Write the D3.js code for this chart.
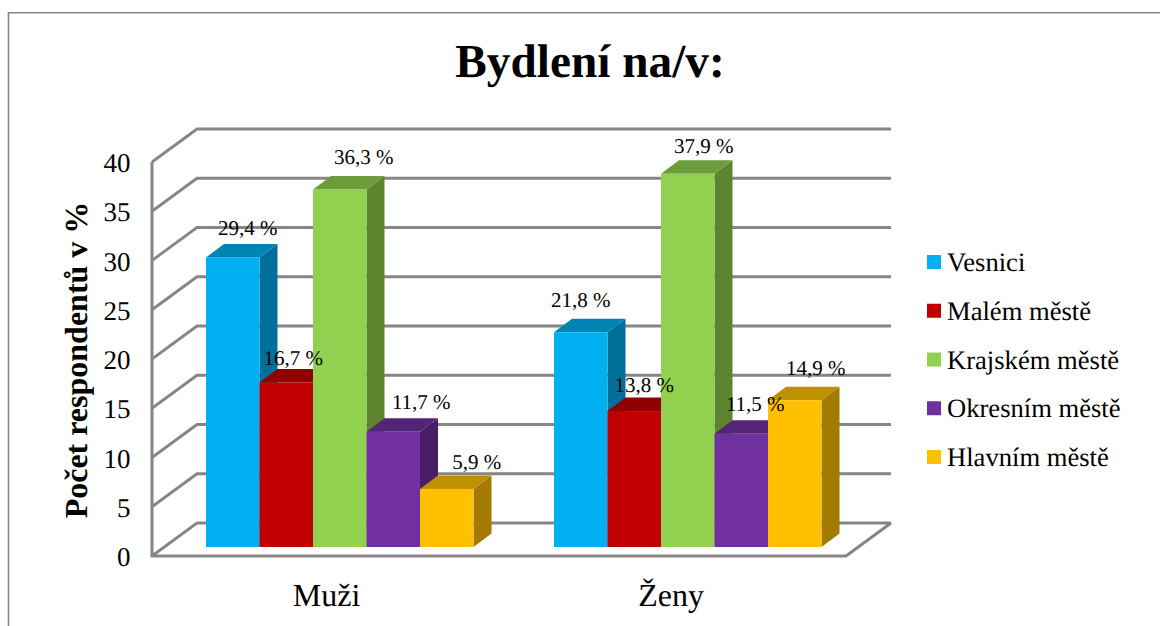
<!DOCTYPE html>
<html><head><meta charset="utf-8">
<script src="https://cdn.jsdelivr.net/npm/d3@7"></script>
<style>html,body{margin:0;padding:0;background:#fff}svg{display:block}text{font-family:"Liberation Serif",serif;fill:#000;text-rendering:geometricPrecision}</style>
</head><body><svg id="c" width="1160" height="626"></svg>
<script>
const categories = ["Muži", "Ženy"];
const seriesNames = ["Vesnici", "Malém městě", "Krajském městě", "Okresním městě", "Hlavním městě"];
const muzi = [29.4, 16.7, 36.3, 11.7, 5.9];
const zeny = [21.8, 13.8, 37.9, 11.5, 14.9];
const yTicks = [0, 5, 10, 15, 20, 25, 30, 35, 40];
const colors = ["#00b0f0", "#c00000", "#92d050", "#7030a0", "#ffc000"];
const topColors = ["#0084b4", "#900000", "#6d9c3c", "#542478", "#bf9000"];
const sideColors = ["#00709a", "#7b0000", "#5d8530", "#481f66", "#a37b00"];
const title = "Bydlení na/v:";
const yTitle = "Počet respondentů v %";
const fmt = v => v.toFixed(1).replace(".", ",") + " %";

const svg = d3.select("#c");
const GRID = "#868686";
// frame: open on the right and at the bottom, as in the reference
svg.append("path").attr("d", "M8.5,626V12.75H1160").attr("fill", "none").attr("stroke", GRID).attr("stroke-width", 1.6);

const y = d3.scaleLinear().domain([0, 40]).range([556, 162]);
const depth = {x: 45, y: -33};
const barDepth = {x: 18, y: -13.5};
const barOff = {x: 0, y: -9};
const x0 = d3.scaleBand().domain(categories).range([152, 848]);
const x1 = d3.scaleBand().domain(seriesNames).range([54, 321.5]);

// walls and gridlines
const wall = svg.append("g").attr("fill", "none").attr("stroke", GRID);
yTicks.forEach(t => {
  wall.append("path").attr("stroke-width", 2.8)
    .attr("d", `M152,${y(t)}L${152 + depth.x},${y(t) + depth.y}L${846 + depth.x},${y(t) + depth.y}`);
});
wall.append("path").attr("stroke-width", 3).attr("d", `M152,${y(40)}V${y(0)}H846L${846 + depth.x},${y(0) + depth.y}`);

// y tick labels
svg.append("g").selectAll("text").data(yTicks).enter().append("text")
  .attr("x", 130.5).attr("y", d => y(d) + 10).attr("text-anchor", "end").attr("font-size", 27).text(d => d);

// hand-placed data label nudges (dx from bar centre, dy above bar top), per category
const labelNudge = {
  "Muži": [[15, 22], [7, 18], [24, 25], [28, 23], [30, 20]],
  "Ženy": [[0, 25], [10, 19], [16, 21], [14, 23], [21, 25]]
};
const scale = v => y(v) - y(0);
const drawBars = (cat, values) => {
  const g = svg.append("g").attr("transform", `translate(${x0(cat)},0)`);
  const base = y(0) + barOff.y;
  values.forEach((v, i) => {
    const xl = x1(seriesNames[i]), xr = xl + x1.bandwidth(), top = base + scale(v);
    g.append("path").attr("fill", sideColors[i])
      .attr("d", `M${xr},${top}l${barDepth.x},${barDepth.y}V${base + barDepth.y}L${xr},${base}Z`);
    g.append("path").attr("fill", topColors[i])
      .attr("d", `M${xl},${top}l${barDepth.x},${barDepth.y}H${xr + barDepth.x}L${xr},${top}Z`);
    g.append("rect").attr("x", xl).attr("y", top).attr("width", x1.bandwidth()).attr("height", base - top).attr("fill", colors[i]);
  });
  values.forEach((v, i) => {
    const xl = x1(seriesNames[i]), [dx, dy] = labelNudge[cat][i];
    g.append("text").attr("x", xl + x1.bandwidth() / 2 + dx).attr("y", base + scale(v) - dy)
      .attr("text-anchor", "middle").attr("font-size", 21).text(fmt(v));
  });
};
drawBars(categories[0], muzi);
drawBars(categories[1], zeny);

// category labels
const catNudge = {"Muži": 0.5, "Ženy": -3};
svg.append("g").selectAll("text").data(categories).enter().append("text")
  .attr("x", d => x0(d) + x0.bandwidth() / 2 + catNudge[d]).attr("y", 606).attr("text-anchor", "middle")
  .attr("font-size", 32).text(d => d);

// titles
svg.append("text").attr("x", 590).attr("y", 77).attr("text-anchor", "middle")
  .attr("font-size", 47.3).attr("font-weight", "bold").text(title);
svg.append("text").attr("transform", "translate(87,360) rotate(-90)").attr("text-anchor", "middle")
  .attr("font-size", 32).attr("font-weight", "bold").text(yTitle);

// legend
const ly = d3.scalePoint().domain(seriesNames).range([262, 457]);
const lg = svg.append("g").selectAll("g").data(seriesNames).enter().append("g")
  .attr("transform", d => `translate(927,${ly(d)})`);
lg.append("rect").attr("x", 0).attr("y", -7).attr("width", 14).attr("height", 14).attr("fill", (d, i) => colors[i]);
lg.append("text").attr("x", 20).attr("y", 9).attr("font-size", 26.6).text(d => d);
</script></body></html>
